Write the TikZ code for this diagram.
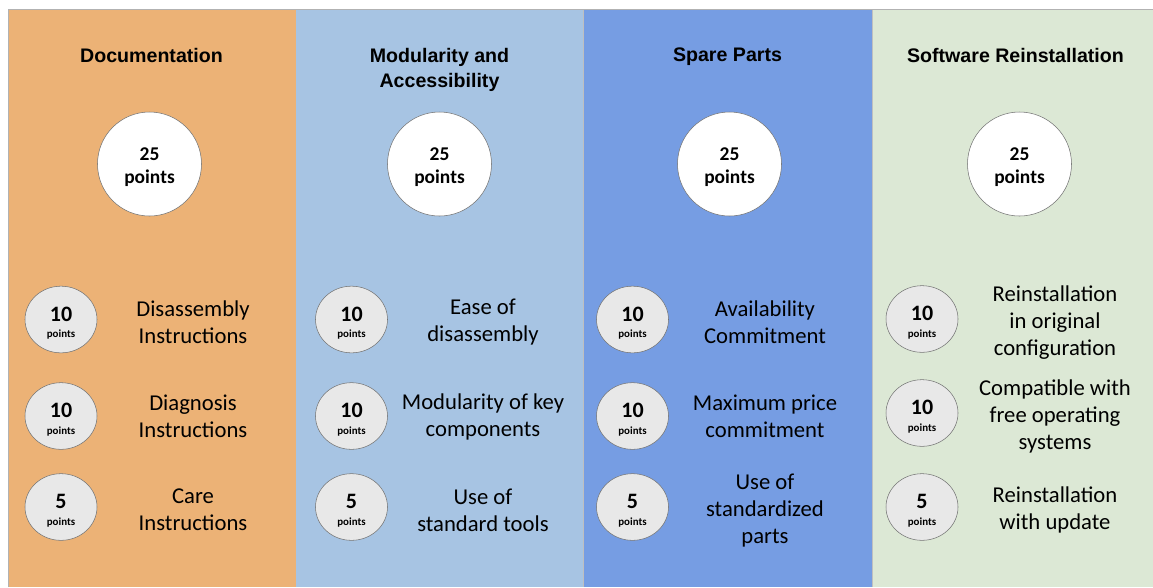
\documentclass[tikz,border=0pt]{standalone}
\usepackage{fontspec}
\setmainfont{Carlito}
\newfontfamily\headfont{Liberation Sans}
\usetikzlibrary{shapes.geometric}

\definecolor{docorange}{HTML}{ECB276}
\definecolor{modblue}{HTML}{A7C4E3}
\definecolor{spareblue}{HTML}{769DE3}
\definecolor{softgreen}{HTML}{DCE8D5}

\begin{document}
\begin{tikzpicture}[x=0.75pt, y=-0.75pt,
    heading/.style={anchor=north, inner sep=0pt, align=center,
        font=\headfont\bfseries\fontsize{14.7}{18.75}\selectfont},
    total/.style={circle, draw=black!55, fill=white, minimum size=78pt, inner sep=0pt},
    totalnum/.style={anchor=base, inner sep=0pt, font=\bfseries\fontsize{14.6}{16}\selectfont},
    part/.style={ellipse, draw=black!55, fill=black!9, minimum width=54pt, minimum height=50pt, inner sep=0pt},
    partnum/.style={anchor=base, inner sep=0pt, font=\bfseries\fontsize{16.5}{18}\selectfont},
    partpts/.style={anchor=base, inner sep=0pt, font=\bfseries\fontsize{8.2}{9}\selectfont},
    item/.style={align=center, inner sep=0pt, font=\fontsize{17}{20.25}\selectfont}]
                \useasboundingbox (0,0) rectangle (1153,587);

                \draw [draw=none, fill=docorange] (8,9) rectangle (296,587);
                \draw [draw=none, fill=modblue] (296,9) rectangle (583.5,587);
                \draw [draw=none, fill=spareblue] (583.5,9) rectangle (872,587);
                \draw [draw=none, fill=softgreen] (872,9) rectangle (1153,587);
                \draw [black!25] (583.5,9) -- (583.5,587);
                \draw [black!25] (872,9) -- (872,587);
                \draw [black!30] (8,587) -- (8,9) -- (1153,9);

                % Documentation
                \node [heading] (doc-head) at (151.5,48) {Documentation};
                \node [total] (doc-total) at (149.5,164) {};
                \node [totalnum] (doc-total-n) at (149.5,160) {25};
                \node [totalnum] (doc-total-p) at (149.5,183) {points};
                \node [part] (doc-a) at (61,319.5) {};
                \node [partnum] (doc-a-n) at (61,321) {10};
                \node [partpts] (doc-a-p) at (61,337.5) {points};
                \node [item] (doc-a-text) at (193,322) {Disassembly\\Instructions};
                \node [part] (doc-b) at (61,416) {};
                \node [partnum] (doc-b-n) at (61,417.5) {10};
                \node [partpts] (doc-b-p) at (61,434) {points};
                \node [item] (doc-b-text) at (193,416) {Diagnosis\\Instructions};
                \node [part] (doc-c) at (61,507) {};
                \node [partnum] (doc-c-n) at (61,508.5) {5};
                \node [partpts] (doc-c-p) at (61,525) {points};
                \node [item] (doc-c-text) at (193,510) {Care\\Instructions};

                % Modularity and Accessibility
                \node [heading] (mod-head) at (439.5,48) {Modularity and\\Accessibility};
                \node [total] (mod-total) at (439.5,164) {};
                \node [totalnum] (mod-total-n) at (439.5,160) {25};
                \node [totalnum] (mod-total-p) at (439.5,183) {points};
                \node [part] (mod-a) at (351.5,319.5) {};
                \node [partnum] (mod-a-n) at (351.5,321) {10};
                \node [partpts] (mod-a-p) at (351.5,337.5) {points};
                \node [item] (mod-a-text) at (483,322.5) {Ease of\\disassembly};
                \node [part] (mod-b) at (351.5,416) {};
                \node [partnum] (mod-b-n) at (351.5,417.5) {10};
                \node [partpts] (mod-b-p) at (351.5,434) {points};
                \node [item] (mod-b-text) at (483,417) {Modularity of key\\components};
                \node [part] (mod-c) at (351.5,507) {};
                \node [partnum] (mod-c-n) at (351.5,508.5) {5};
                \node [partpts] (mod-c-p) at (351.5,525) {points};
                \node [item] (mod-c-text) at (483,510.5) {Use of\\standard tools};

                % Spare Parts
                \node [heading] (spare-head) at (727.5,48) {Spare Parts};
                \node [total] (spare-total) at (729.5,164) {};
                \node [totalnum] (spare-total-n) at (729.5,160) {25};
                \node [totalnum] (spare-total-p) at (729.5,183) {points};
                \node [part] (spare-a) at (632.5,319.5) {};
                \node [partnum] (spare-a-n) at (632.5,321) {10};
                \node [partpts] (spare-a-p) at (632.5,337.5) {points};
                \node [item] (spare-a-text) at (765,322) {Availability\\Commitment};
                \node [part] (spare-b) at (632.5,416) {};
                \node [partnum] (spare-b-n) at (632.5,417.5) {10};
                \node [partpts] (spare-b-p) at (632.5,434) {points};
                \node [item] (spare-b-text) at (765,416.5) {Maximum price\\commitment};
                \node [part] (spare-c) at (632.5,507) {};
                \node [partnum] (spare-c-n) at (632.5,508.5) {5};
                \node [partpts] (spare-c-p) at (632.5,525) {points};
                \node [item] (spare-c-text) at (765,510.5) {Use of\\standardized\\parts};

                % Software Reinstallation
                \node [heading] (soft-head) at (1015.5,48) {Software Reinstallation};
                \node [total] (soft-total) at (1019.5,164) {};
                \node [totalnum] (soft-total-n) at (1019.5,160) {25};
                \node [totalnum] (soft-total-p) at (1019.5,183) {points};
                \node [part] (soft-a) at (922,319) {};
                \node [partnum] (soft-a-n) at (922,320.5) {10};
                \node [partpts] (soft-a-p) at (922,337) {points};
                \node [item] (soft-a-text) at (1055,322.5) {Reinstallation\\in original\\configuration};
                \node [part] (soft-b) at (922,413) {};
                \node [partnum] (soft-b-n) at (922,414.5) {10};
                \node [partpts] (soft-b-p) at (922,431) {points};
                \node [item] (soft-b-text) at (1055,416) {Compatible with\\free operating\\systems};
                \node [part] (soft-c) at (922,507) {};
                \node [partnum] (soft-c-n) at (922,508.5) {5};
                \node [partpts] (soft-c-p) at (922,525) {points};
                \node [item] (soft-c-text) at (1055,510) {Reinstallation\\with update};
            \end{tikzpicture}
\end{document}
